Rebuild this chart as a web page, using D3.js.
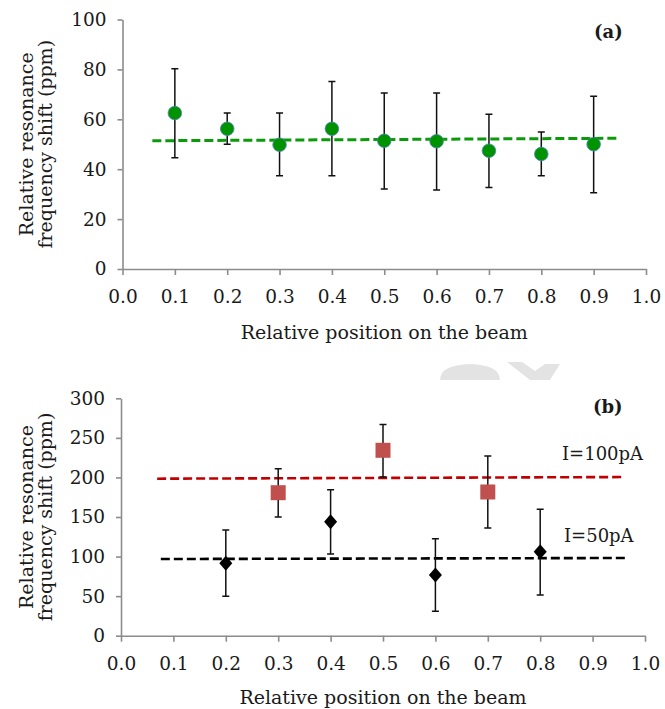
<!DOCTYPE html>
<html><head><meta charset="utf-8">
<script src="https://cdn.jsdelivr.net/npm/d3@7"></script>
<style>
body{margin:0;background:#fff;}
svg text{font-family:"DejaVu Serif",serif;fill:#1a1a1a;}
</style></head>
<body><svg id="c" width="665" height="709"></svg>
<script>
// ---- data: panel (a)
const posA = [0.1,0.2,0.3,0.4,0.5,0.6,0.7,0.8,0.9];
const shiftA = [62.5,56.2,49.8,56.2,51.4,51.2,47.4,46.1,50.0];
const hiA = [80.3,62.5,62.5,75.2,70.5,70.5,62.0,54.9,69.2];
const loA = [44.6,50.0,37.4,37.4,32.1,31.7,32.7,37.4,30.6];
const trendAx = [0.057,0.944];
const trendAy = [51.4,52.4];
// ---- data: panel (b)
const pos100 = [0.3,0.5,0.7];
const shift100 = [180.7,234.3,181.6];
const hi100 = [211,267,227];
const lo100 = [150,200.5,136];
const pos50 = [0.2,0.4,0.6,0.8];
const shift50 = [91.5,144.1,76.7,106.2];
const hi50 = [133.6,184.5,122.6,159.7];
const lo50 = [49.8,103.2,30.8,51.4];
const trend100x = [0.069,0.959];
const trend100y = [198.4,200.5];
const trend50x = [0.076,0.962];
const trend50y = [96.9,98.2];
const xTicks = [0,0.1,0.2,0.3,0.4,0.5,0.6,0.7,0.8,0.9,1.0];
const yTicksA = [0,20,40,60,80,100];
const yTicksB = [0,50,100,150,200,250,300];
const xTitle = "Relative position on the beam";
const yTitle = ["Relative resonance","frequency shift (ppm)"];

const svg = d3.select("#c");

// faint watermark shape
svg.append("path").attr("d","M440,380 Q440,365 470,364 Q500,365 500,380 Z").attr("fill","#e3e3e3");
svg.append("path").attr("d","M507,362 L522,362 L535,371 L545,364 L560,364 L550,380 L530,380 Z").attr("fill","#e3e3e3");

function panel(cfg){
  const g = svg.append("g");
  const x = d3.scaleLinear().domain([0,1]).range([cfg.x0,cfg.x1]);
  const y = d3.scaleLinear().domain([0,cfg.ymax]).range([cfg.y0,cfg.y1]);
  const ax = g.append("g").attr("transform",`translate(0,${cfg.y0})`)
    .call(d3.axisBottom(x).tickValues(xTicks).tickFormat(d3.format(".1f")).tickSizeInner(6).tickSizeOuter(0).tickPadding(15));
  const ay = g.append("g").attr("transform",`translate(${cfg.x0},0)`)
    .call(d3.axisLeft(y).tickValues(cfg.yTicks).tickSizeInner(5).tickSizeOuter(0).tickPadding(11));
  [ax,ay].forEach(a=>{
    a.selectAll("path,line").attr("stroke","#8c8c8c").attr("stroke-width",1.6);
    a.selectAll("text").attr("font-family","DejaVu Serif").attr("font-size",18.5).attr("fill","#1a1a1a");
  });
  g.append("text").attr("x",(cfg.x0+cfg.x1)/2).attr("y",cfg.titleY).attr("text-anchor","middle")
    .attr("font-size",19).text(xTitle);
  const cy = (cfg.y0+cfg.y1)/2;
  yTitle.forEach((t,i)=>{
    g.append("text").attr("transform",`translate(${33+i*19},${cy}) rotate(-90)`)
      .attr("text-anchor","middle").attr("font-size",19).text(t);
  });
  g.append("text").attr("x",cfg.tagX).attr("y",cfg.tagY).attr("font-weight","bold").attr("font-size",18).text(cfg.tag);
  return {g,x,y};
}

function trend(p,xs,ys,color,w){
  p.g.append("line").attr("x1",p.x(xs[0])).attr("x2",p.x(xs[1]))
    .attr("y1",p.y(ys[0])).attr("y2",p.y(ys[1]))
    .attr("stroke",color).attr("stroke-width",w).attr("stroke-dasharray","9,4");
}
function errbars(p,xs,hi,lo){
  xs.forEach((v,i)=>{
    const cx=p.x(v), t=p.y(hi[i]), b=p.y(lo[i]);
    p.g.append("path").attr("d",`M${cx},${t}V${b}M${cx-3.5},${t}H${cx+3.5}M${cx-3.5},${b}H${cx+3.5}`)
      .attr("stroke","#111").attr("stroke-width",1.5).attr("fill","none");
  });
}

// panel (a)
const pa = panel({x0:122.5,x1:646,y0:269,y1:19.5,ymax:100,yTicks:yTicksA,titleY:339,tag:"(a)",tagX:594,tagY:38});
trend(pa,trendAx,trendAy,"#0a9a0a",3);
errbars(pa,posA,hiA,loA);
pa.g.selectAll("circle.m").data(posA).enter().append("circle")
  .attr("cx",d=>pa.x(d)).attr("cy",(d,i)=>pa.y(shiftA[i])).attr("r",6.8)
  .attr("fill","#009300").attr("stroke","#4f81bd").attr("stroke-width",0.8);

// panel (b)
const pb = panel({x0:121,x1:645,y0:635.7,y1:398.3,ymax:300,yTicks:yTicksB,titleY:704,tag:"(b)",tagX:593,tagY:413});
trend(pb,trend100x,trend100y,"#c00000",2.6);
trend(pb,trend50x,trend50y,"#000000",2.6);
errbars(pb,pos100,hi100,lo100);
errbars(pb,pos50,hi50,lo50);
pb.g.selectAll("rect.m").data(pos100).enter().append("rect")
  .attr("x",d=>pb.x(d)-7.5).attr("y",(d,i)=>pb.y(shift100[i])-7.5).attr("width",15).attr("height",15)
  .attr("fill","#c0504d");
pb.g.selectAll("path.d").data(pos50).enter().append("path")
  .attr("d",(d,i)=>{const cx=pb.x(d),cy=pb.y(shift50[i]);return `M${cx},${cy-7.5}L${cx+6.5},${cy}L${cx},${cy+7.5}L${cx-6.5},${cy}Z`;})
  .attr("fill","#000");
pb.g.append("text").attr("x",562).attr("y",460).attr("font-size",18).text("I=100pA");
pb.g.append("text").attr("x",564).attr("y",542).attr("font-size",18).text("I=50pA");
</script></body></html>
